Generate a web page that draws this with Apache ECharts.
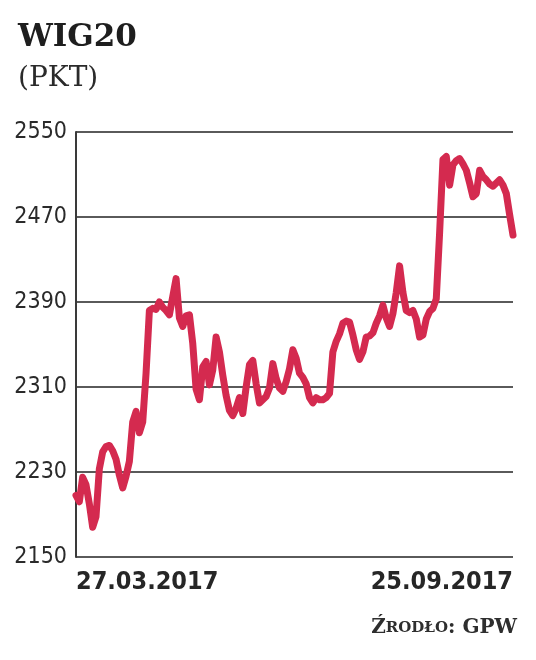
<!DOCTYPE html>
<html>
<head>
<meta charset="utf-8">
<script src="https://cdn.jsdelivr.net/npm/echarts@6/dist/echarts.min.js"></script>
<style>
html,body{margin:0;padding:0;background:#fff;}
#chart{width:536px;height:660px;}
</style>
</head>
<body>
<div id="chart"></div>
<script>
var titleText = 'WIG20';
var unitText = '(PKT)';
var xTickLabels = ['27.03.2017', '25.09.2017'];
var yMin = 2150, yMax = 2550, yStep = 80;
var values = [
2208,2202,2225,2218,2200,2178,2188,2233,2249,2254,
2255,2250,2242,2227,2215,2226,2240,2277,2287,2267,
2277,2323,2382,2384,2383,2390,2385,2382,2378,2395,
2412,2375,2367,2377,2378,2351,2308,2298,2329,2334,
2312,2326,2357,2343,2321,2302,2288,2283,2290,2300,
2285,2310,2331,2335,2313,2295,2298,2301,2309,2332,
2318,2309,2306,2315,2327,2345,2337,2323,2319,2313,
2300,2295,2300,2298,2298,2300,2304,2343,2353,2360,
2370,2372,2371,2359,2345,2336,2343,2357,2358,2361,
2370,2377,2387,2375,2367,2379,2399,2424,2399,2382,
2380,2382,2374,2357,2359,2374,2381,2384,2393,2455,
2524,2527,2500,2519,2523,2525,2520,2514,2502,2489,
2492,2514,2508,2505,2501,2499,2502,2505,2500,2492,
2472,2453
];
var categories = values.map(function(_, i){ return String(i); });
var last = values.length - 1;
var narrow = "'Liberation Sans Narrow', 'DejaVu Sans Condensed', sans-serif";

var chart = echarts.init(document.getElementById('chart'));
chart.setOption({
  animation: false,
  backgroundColor: '#fff',
  title: [
    {text: titleText, left: 13, top: 17,
     textStyle: {fontFamily: 'DejaVu Serif', fontWeight: 'bold', fontSize: 31, color: '#1e1e1e'}},
    {text: unitText, left: 13, top: 60,
     textStyle: {fontFamily: 'DejaVu Serif', fontWeight: 'normal', fontSize: 28, color: '#2a2a2a'}},
    {text: '{b|Ź}{s|RODŁO}{b|: GPW}', right: 14, top: 613,
     textStyle: {rich: {
       b: {fontFamily: 'DejaVu Serif', fontSize: 20, color: '#2e2e2e'},
       s: {fontFamily: 'DejaVu Serif', fontSize: 15, color: '#2e2e2e'}
     }}}
  ],
  grid: {left: 76, right: 23, top: 132, bottom: 103, containLabel: false, outerBoundsMode: 'none'},
  xAxis: {
    type: 'category',
    data: categories,
    boundaryGap: false,
    axisLine: {show: false},
    axisTick: {show: false},
    splitLine: {show: false},
    axisLabel: {
      interval: function(i){ return i === 0 || i === last; },
      showMinLabel: true, showMaxLabel: true,
      alignMinLabel: 'left', alignMaxLabel: 'right',
      formatter: function(v, i){ return i === 0 ? xTickLabels[0] : xTickLabels[1]; },
      margin: 13,
      fontFamily: narrow,
      fontWeight: 'bold',
      fontSize: 25,
      color: '#262626'
    }
  },
  yAxis: {
    type: 'value',
    min: yMin, max: yMax, interval: yStep,
    axisLine: {show: true, lineStyle: {color: '#3a3a3a', width: 2}},
    axisTick: {show: false},
    splitLine: {show: true, lineStyle: {color: '#5a5a5a', width: 2}},
    axisLabel: {
      margin: 9,
      formatter: function(v){ return String(v); },
      fontFamily: narrow,
      fontSize: 23,
      color: '#2a2a2a'
    }
  },
  series: [{
    type: 'line',
    data: values,
    symbol: 'none',
    smooth: false,
    lineStyle: {color: '#d42a4f', width: 7, cap: 'round', join: 'round'},
    z: 5
  }]
});
</script>
</body>
</html>
